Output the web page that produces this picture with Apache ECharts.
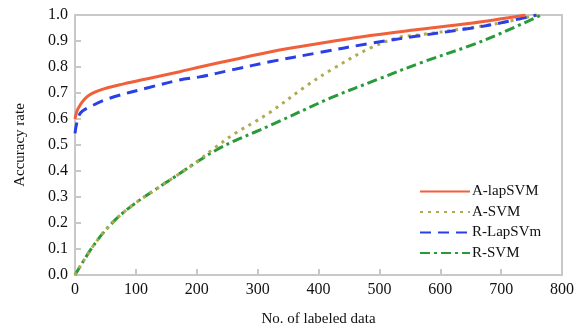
<!DOCTYPE html>
<html>
<head>
<meta charset="utf-8">
<script src="https://cdn.jsdelivr.net/npm/echarts@6/dist/echarts.min.js"></script>
<style>html,body{margin:0;padding:0;background:#fff;}#c{width:575px;height:328px;}</style>
</head>
<body>
<div id="c"></div>
<script>
const seriesNames = ['A-lapSVM', 'A-SVM', 'R-LapSVm', 'R-SVM'];
const xTicks = [0, 100, 200, 300, 400, 500, 600, 700, 800];
const yTicks = [0, 0.1, 0.2, 0.3, 0.4, 0.5, 0.6, 0.7, 0.8, 0.9, 1.0];

const aLapX = [0, 5, 20, 40, 80, 123, 172, 205, 260, 320, 400, 485, 560, 650, 740];
const aLapY = [0.60, 0.64, 0.686, 0.71, 0.735, 0.757, 0.782, 0.80, 0.828, 0.858, 0.89, 0.921, 0.943, 0.968, 1.0];

const aSvmX = [0, 33, 66, 99, 131, 164, 197, 230, 263, 296, 320, 380, 420, 485, 534, 560, 650, 700, 760];
const aSvmY = [0.0, 0.122, 0.212, 0.276, 0.327, 0.378, 0.43, 0.49, 0.545, 0.59, 0.625, 0.727, 0.788, 0.873, 0.915, 0.922, 0.951, 0.97, 1.0];

const rLapX = [0, 8, 25, 57, 123, 172, 205, 260, 320, 400, 485, 560, 650, 700, 758];
const rLapY = [0.545, 0.62, 0.647, 0.68, 0.722, 0.75, 0.762, 0.79, 0.82, 0.855, 0.891, 0.918, 0.949, 0.97, 1.0];

const rSvmX = [0, 33, 66, 99, 131, 164, 197, 230, 263, 296, 328, 419, 500, 570, 649, 700, 766];
const rSvmY = [0.0, 0.122, 0.212, 0.276, 0.327, 0.378, 0.43, 0.478, 0.517, 0.55, 0.583, 0.68, 0.755, 0.818, 0.882, 0.93, 1.0];

function zip(xs, ys) { return xs.map((x, i) => [x, ys[i]]); }

const font = '"Liberation Serif", "DejaVu Serif", serif';
const chart = echarts.init(document.getElementById('c'), null, {renderer: 'canvas'});
chart.setOption({
  animation: false,
  backgroundColor: '#fff',
  grid: { left: 75, right: 13, top: 15, bottom: 53, containLabel: false, outerBoundsMode: 'none',
          show: true, borderColor: '#c8c8c8', borderWidth: 2, backgroundColor: 'transparent' },
  legend: {
    orient: 'vertical', left: 414, top: 179, itemWidth: 50, itemHeight: 14, itemGap: 5.5,
    itemStyle: { color: 'transparent', borderWidth: 0, opacity: 0 },
    textStyle: { fontFamily: font, fontSize: 15, color: '#111', padding: [0, 0, 0, -3] },
    data: seriesNames
  },
  xAxis: {
    type: 'value', min: 0, max: 800, interval: 100,
    name: 'No. of labeled data', nameLocation: 'middle', nameGap: 37,
    nameTextStyle: { fontFamily: font, fontSize: 15, color: '#111' },
    axisLine: { lineStyle: { color: '#c8c8c8', width: 2 } },
    axisTick: { inside: true, length: 6, lineStyle: { color: '#c8c8c8', width: 2 } },
    axisLabel: { fontFamily: font, fontSize: 16, color: '#111', margin: 7, formatter: v => xTicks.includes(v) ? String(v) : '' },
    splitLine: { show: false }
  },
  yAxis: {
    type: 'value', min: 0, max: 1, interval: 0.1,
    name: 'Accuracy rate', nameLocation: 'middle', nameGap: 47,
    nameTextStyle: { fontFamily: font, fontSize: 15, color: '#111' },
    axisLine: { show: true, lineStyle: { color: '#c8c8c8', width: 2 } },
    axisTick: { show: true, inside: true, length: 6, lineStyle: { color: '#c8c8c8', width: 2 } },
    axisLabel: { fontFamily: font, fontSize: 16, color: '#111', margin: 7, formatter: v => v.toFixed(1) },
    splitLine: { show: false }
  },
  series: [
    { name: seriesNames[0], type: 'line', data: zip(aLapX, aLapY), smooth: 0.35, showSymbol: false, symbol: 'none',
      lineStyle: { color: '#f0603a', width: 3, type: 'solid' }, itemStyle: { color: '#f0603a' }, z: 5 },
    { name: seriesNames[1], type: 'line', data: zip(aSvmX, aSvmY), smooth: 0.35, showSymbol: false, symbol: 'none',
      lineStyle: { color: '#b0aa50', width: 3, type: [3, 5] }, itemStyle: { color: '#b0aa50' }, z: 3 },
    { name: seriesNames[2], type: 'line', data: zip(rLapX, rLapY), smooth: 0.35, showSymbol: false, symbol: 'none',
      lineStyle: { color: '#2a3fe6', width: 3, type: [11, 7] }, itemStyle: { color: '#2a3fe6' }, z: 4 },
    { name: seriesNames[3], type: 'line', data: zip(rSvmX, rSvmY), smooth: 0.35, showSymbol: false, symbol: 'none',
      lineStyle: { color: '#289a3a', width: 3, type: [10, 4, 3, 4] }, itemStyle: { color: '#289a3a' }, z: 2 }
  ]
});
</script>
</body>
</html>
